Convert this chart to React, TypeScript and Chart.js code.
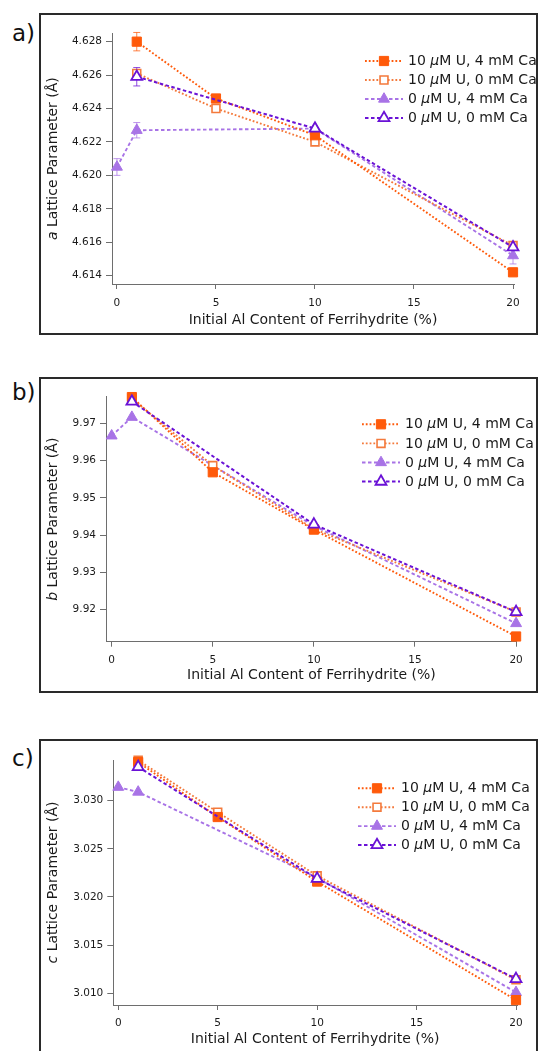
import React, { useEffect, useRef } from 'react';
import { Chart, registerables } from 'chart.js';

Chart.register(...registerables);

const FONT = "'DejaVu Sans', sans-serif";

// ---------- data ----------
const alContent = [0, 1, 5, 10, 20];
const seriesLabels = ['10 μM U, 4 mM Ca', '10 μM U, 0 mM Ca', '0 μM U, 4 mM Ca', '0 μM U, 0 mM Ca'];
const xTitle = 'Initial Al Content of Ferrihydrite (%)';
const yTitleRest = ' Lattice Parameter (Å)';

// a lattice parameter (Å)
const aU10Ca4 = [null, 4.6280, 4.6246, 4.6224, 4.6142];
const aU10Ca0 = [null, 4.6261, 4.6240, 4.6220, 4.6158];
const aU0Ca4 = [4.6205, 4.6227, null, 4.6228, 4.6152];
const aU0Ca0 = [null, 4.6259, null, 4.6228, 4.6157];
const aU10Ca4Err = [null, 0.00055, null, null, null];
const aU10Ca0Err = [null, null, null, null, null];
const aU0Ca4Err = [0.0005, 0.00046, null, null, 0.0005];
const aU0Ca0Err = [null, 0.00055, null, null, null];

// b lattice parameter (Å)
const bU10Ca4 = [null, 9.9771, 9.9569, 9.9415, 9.9128];
const bU10Ca0 = [null, 9.9767, 9.9587, 9.9417, 9.9194];
const bU0Ca4 = [9.9667, 9.9717, null, 9.9425, 9.9163];
const bU0Ca0 = [null, 9.9759, null, 9.9429, 9.9194];

// c lattice parameter (Å)
const cU10Ca4 = [null, 3.0340, 3.0283, 3.0216, 3.0093];
const cU10Ca0 = [null, 3.0342, 3.0288, 3.0222, 3.0114];
const cU0Ca4 = [3.0314, 3.0309, null, 3.0220, 3.0101];
const cU0Ca0 = [null, 3.0335, null, 3.0219, 3.0115];

const noErr = [null, null, null, null, null];

// ---------- styles ----------
const seriesStyles = [
  { color: '#ff5a0a', fill: '#ff5a0a', shape: 'rect', radius: 6.5, pbw: 1, dash: [1.8, 2.0], lw: 1.9, order: 1 },
  { color: '#f47a3c', fill: '#ffffff', shape: 'rect', radius: 5.6, pbw: 1.6, dash: [1.8, 2.0], lw: 1.9, order: 2 },
  { color: '#a873e6', fill: '#a873e6', shape: 'triangle', radius: 6.3, pbw: 1, dash: [3.5, 2.5], lw: 1.9, order: 3 },
  { color: '#6a12d6', fill: '#ffffff', shape: 'triangle', radius: 6.3, pbw: 1.8, dash: [3.5, 2.5], lw: 2, order: 0 },
];

const panels = [
  {
    letter: 'a', boxTop: 13, boxHeight: 322, canvasHeight: 322, labelCenter: 33,
    area: { left: 112, right: 514, top: 20.3, bottom: 271 },
    xMin: -0.25, xMax: 20.05, yMin: 4.6135, yMax: 4.6285, yStep: 0.002, dec: 3,
    series: [aU10Ca4, aU10Ca0, aU0Ca4, aU0Ca0],
    errors: [aU10Ca4Err, aU10Ca0Err, aU0Ca4Err, aU0Ca0Err],
    legendY: 48, legendDy: 19, legendX: 408, titleOffset: 36, xTickPad: 8,
  },
  {
    letter: 'b', boxTop: 377, boxHeight: 316, canvasHeight: 316, labelCenter: 392,
    area: { left: 106, right: 516.7, top: 19.7, bottom: 264.7 },
    xMin: -0.28, xMax: 20.03, yMin: 9.9114, yMax: 9.9772, yStep: 0.01, dec: 2,
    series: [bU10Ca4, bU10Ca0, bU0Ca4, bU0Ca0],
    errors: [noErr, noErr, noErr, noErr],
    legendY: 47.3, legendDy: 19.1, legendX: 405, titleOffset: 33.5, xTickPad: 7,
  },
  {
    letter: 'c', boxTop: 739, boxHeight: 330, canvasHeight: 312, labelCenter: 757.5,
    area: { left: 113.3, right: 517, top: 21, bottom: 266 },
    xMin: -0.25, xMax: 20.05, yMin: 3.00879, yMax: 3.03422, yStep: 0.005, dec: 3,
    series: [cU10Ca4, cU10Ca0, cU0Ca4, cU0Ca0],
    errors: [noErr, noErr, noErr, noErr],
    legendY: 49.3, legendDy: 18.9, legendX: 401, titleOffset: 34.5, xTickPad: 7,
  },
];

const W = 538;
const AXIS = '#6e6e6e';
const TEXT = '#1a1a1a';

function drawMarker(ctx, shape, x, y, r, fill, stroke, bw) {
  ctx.beginPath();
  if (shape === 'rect') {
    const s = r * Math.SQRT1_2;
    ctx.rect(x - s, y - s, 2 * s, 2 * s);
  } else {
    ctx.moveTo(x, y - r);
    ctx.lineTo(x + 0.866 * r, y + 0.5 * r);
    ctx.lineTo(x - 0.866 * r, y + 0.5 * r);
    ctx.closePath();
  }
  ctx.fillStyle = fill;
  ctx.fill();
  ctx.lineWidth = bw;
  ctx.strokeStyle = stroke;
  ctx.stroke();
}

function drawParts(ctx, parts, x, y, size) {
  let cx = x;
  for (const [t, it] of parts) {
    ctx.font = `${it ? 'italic ' : ''}${size}px ${FONT}`;
    ctx.fillText(t, cx, y);
    cx += ctx.measureText(t).width;
  }
}

function measureParts(ctx, parts, size) {
  let w = 0;
  for (const [t, it] of parts) {
    ctx.font = `${it ? 'italic ' : ''}${size}px ${FONT}`;
    w += ctx.measureText(t).width;
  }
  return w;
}

function labelParts(label) {
  const i = label.indexOf('μ');
  return [[label.slice(0, i), false], ['μ', true], [label.slice(i + 1), false]];
}

function makeOverlay(p) {
  return {
    id: 'overlay_' + p.letter,
    beforeDatasetsDraw(chart) {
      const ctx = chart.ctx;
      const xs = chart.scales.x;
      const ys = chart.scales.y;
      ctx.save();
      p.series.forEach((vals, i) => {
        const errs = p.errors[i];
        const st = seriesStyles[i];
        vals.forEach((v, j) => {
          const e = errs[j];
          if (v == null || e == null) return;
          const x = xs.getPixelForValue(alContent[j]);
          const y1 = ys.getPixelForValue(v + e);
          const y2 = ys.getPixelForValue(v - e);
          ctx.strokeStyle = st.color;
          ctx.globalAlpha = 0.75;
          ctx.lineWidth = 1;
          ctx.setLineDash([]);
          ctx.beginPath();
          ctx.moveTo(x, y1); ctx.lineTo(x, y2);
          ctx.moveTo(x - 3.5, y1); ctx.lineTo(x + 3.5, y1);
          ctx.moveTo(x - 3.5, y2); ctx.lineTo(x + 3.5, y2);
          ctx.stroke();
        });
      });
      ctx.restore();
    },
    afterDraw(chart) {
      const ctx = chart.ctx;
      const ca = chart.chartArea;
      ctx.save();
      ctx.fillStyle = TEXT;
      ctx.textBaseline = 'middle';
      ctx.textAlign = 'left';
      // x title
      ctx.font = `14px ${FONT}`;
      const xw = ctx.measureText(xTitle).width;
      ctx.fillText(xTitle, (ca.left + ca.right) / 2 - xw / 2, ca.bottom + p.titleOffset);
      // y title
      const yParts = [[p.letter, true], [yTitleRest, false]];
      const yw = measureParts(ctx, yParts, 14);
      ctx.save();
      ctx.translate(53, (ca.top + ca.bottom) / 2);
      ctx.rotate(-Math.PI / 2);
      drawParts(ctx, yParts, -yw / 2, 0, 14);
      ctx.restore();
      // legend
      seriesLabels.forEach((lab, i) => {
        const st = seriesStyles[i];
        const y = p.legendY + i * p.legendDy;
        const tx = p.legendX;
        ctx.save();
        ctx.strokeStyle = st.color;
        ctx.lineWidth = st.lw;
        ctx.setLineDash(st.dash);
        ctx.beginPath();
        ctx.moveTo(tx - 43, y);
        ctx.lineTo(tx - 5, y);
        ctx.stroke();
        ctx.setLineDash([]);
        drawMarker(ctx, st.shape, tx - 24, y, st.radius, st.fill, st.color, st.pbw);
        ctx.restore();
        ctx.fillStyle = TEXT;
        drawParts(ctx, labelParts(lab), tx, y + 0.5, 14);
      });
      ctx.restore();
    },
  };
}

function Panel({ p }) {
  const ref = useRef(null);
  useEffect(() => {
    const H = p.canvasHeight;
    const datasets = p.series.map((vals, i) => {
      const st = seriesStyles[i];
      return {
        label: seriesLabels[i],
        data: alContent.map((x, j) => ({ x, y: vals[j] })).filter((pt) => pt.y != null),
        borderColor: st.color,
        backgroundColor: st.fill,
        borderWidth: st.lw,
        borderDash: st.dash,
        pointStyle: st.shape,
        pointRadius: st.radius,
        pointBackgroundColor: st.fill,
        pointBorderColor: st.color,
        pointBorderWidth: st.pbw,
        tension: 0,
        order: st.order,
        clip: false,
      };
    });
    const chart = new Chart(ref.current, {
      type: 'line',
      data: { datasets },
      options: {
        responsive: false,
        animation: false,
        devicePixelRatio: 1,
        layout: { padding: { left: 0, top: p.area.top, right: W - p.area.right, bottom: 0 } },
        plugins: { legend: { display: false }, tooltip: { enabled: false } },
        scales: {
          x: {
            type: 'linear',
            min: p.xMin,
            max: p.xMax,
            afterFit: (s) => { s.height = H - p.area.bottom; },
            border: { color: AXIS, width: 1 },
            grid: { drawOnChartArea: false, drawTicks: true, tickLength: 5, color: AXIS },
            ticks: {
              stepSize: 5, includeBounds: false, padding: p.xTickPad, color: TEXT,
              font: { family: FONT, size: 10.5 }, maxRotation: 0, autoSkip: false,
            },
          },
          y: {
            type: 'linear',
            min: p.yMin,
            max: p.yMax,
            afterFit: (s) => { s.width = p.area.left; },
            border: { color: AXIS, width: 1 },
            grid: { drawOnChartArea: false, drawTicks: true, tickLength: 6, color: AXIS },
            ticks: {
              stepSize: p.yStep, includeBounds: false, padding: 4, color: TEXT,
              font: { family: FONT, size: 10.5 },
              callback: (v) => Number(v).toFixed(p.dec),
            },
          },
        },
      },
      plugins: [makeOverlay(p)],
    });
    return () => chart.destroy();
  }, [p]);

  return (
    <>
      <div
        style={{
          position: 'absolute', left: 39, top: p.boxTop, width: W - 39, height: p.boxHeight,
          border: '2px solid #2a2a2a', boxSizing: 'border-box', background: '#fff',
        }}
      />
      <div
        style={{
          position: 'absolute', left: 12, top: p.labelCenter - 13, height: 26, lineHeight: '26px',
          fontFamily: FONT, fontSize: 23, color: '#111',
        }}
      >
        {p.letter})
      </div>
      <canvas
        ref={ref}
        width={W}
        height={p.canvasHeight}
        style={{ position: 'absolute', left: 0, top: p.boxTop, width: W, height: p.canvasHeight }}
      />
    </>
  );
}

export default function App() {
  return (
    <div
      style={{
        position: 'absolute', left: 0, top: 0, width: W, height: 1051,
        overflow: 'hidden', background: '#fff',
      }}
    >
      {panels.map((p) => (
        <Panel key={p.letter} p={p} />
      ))}
    </div>
  );
}
